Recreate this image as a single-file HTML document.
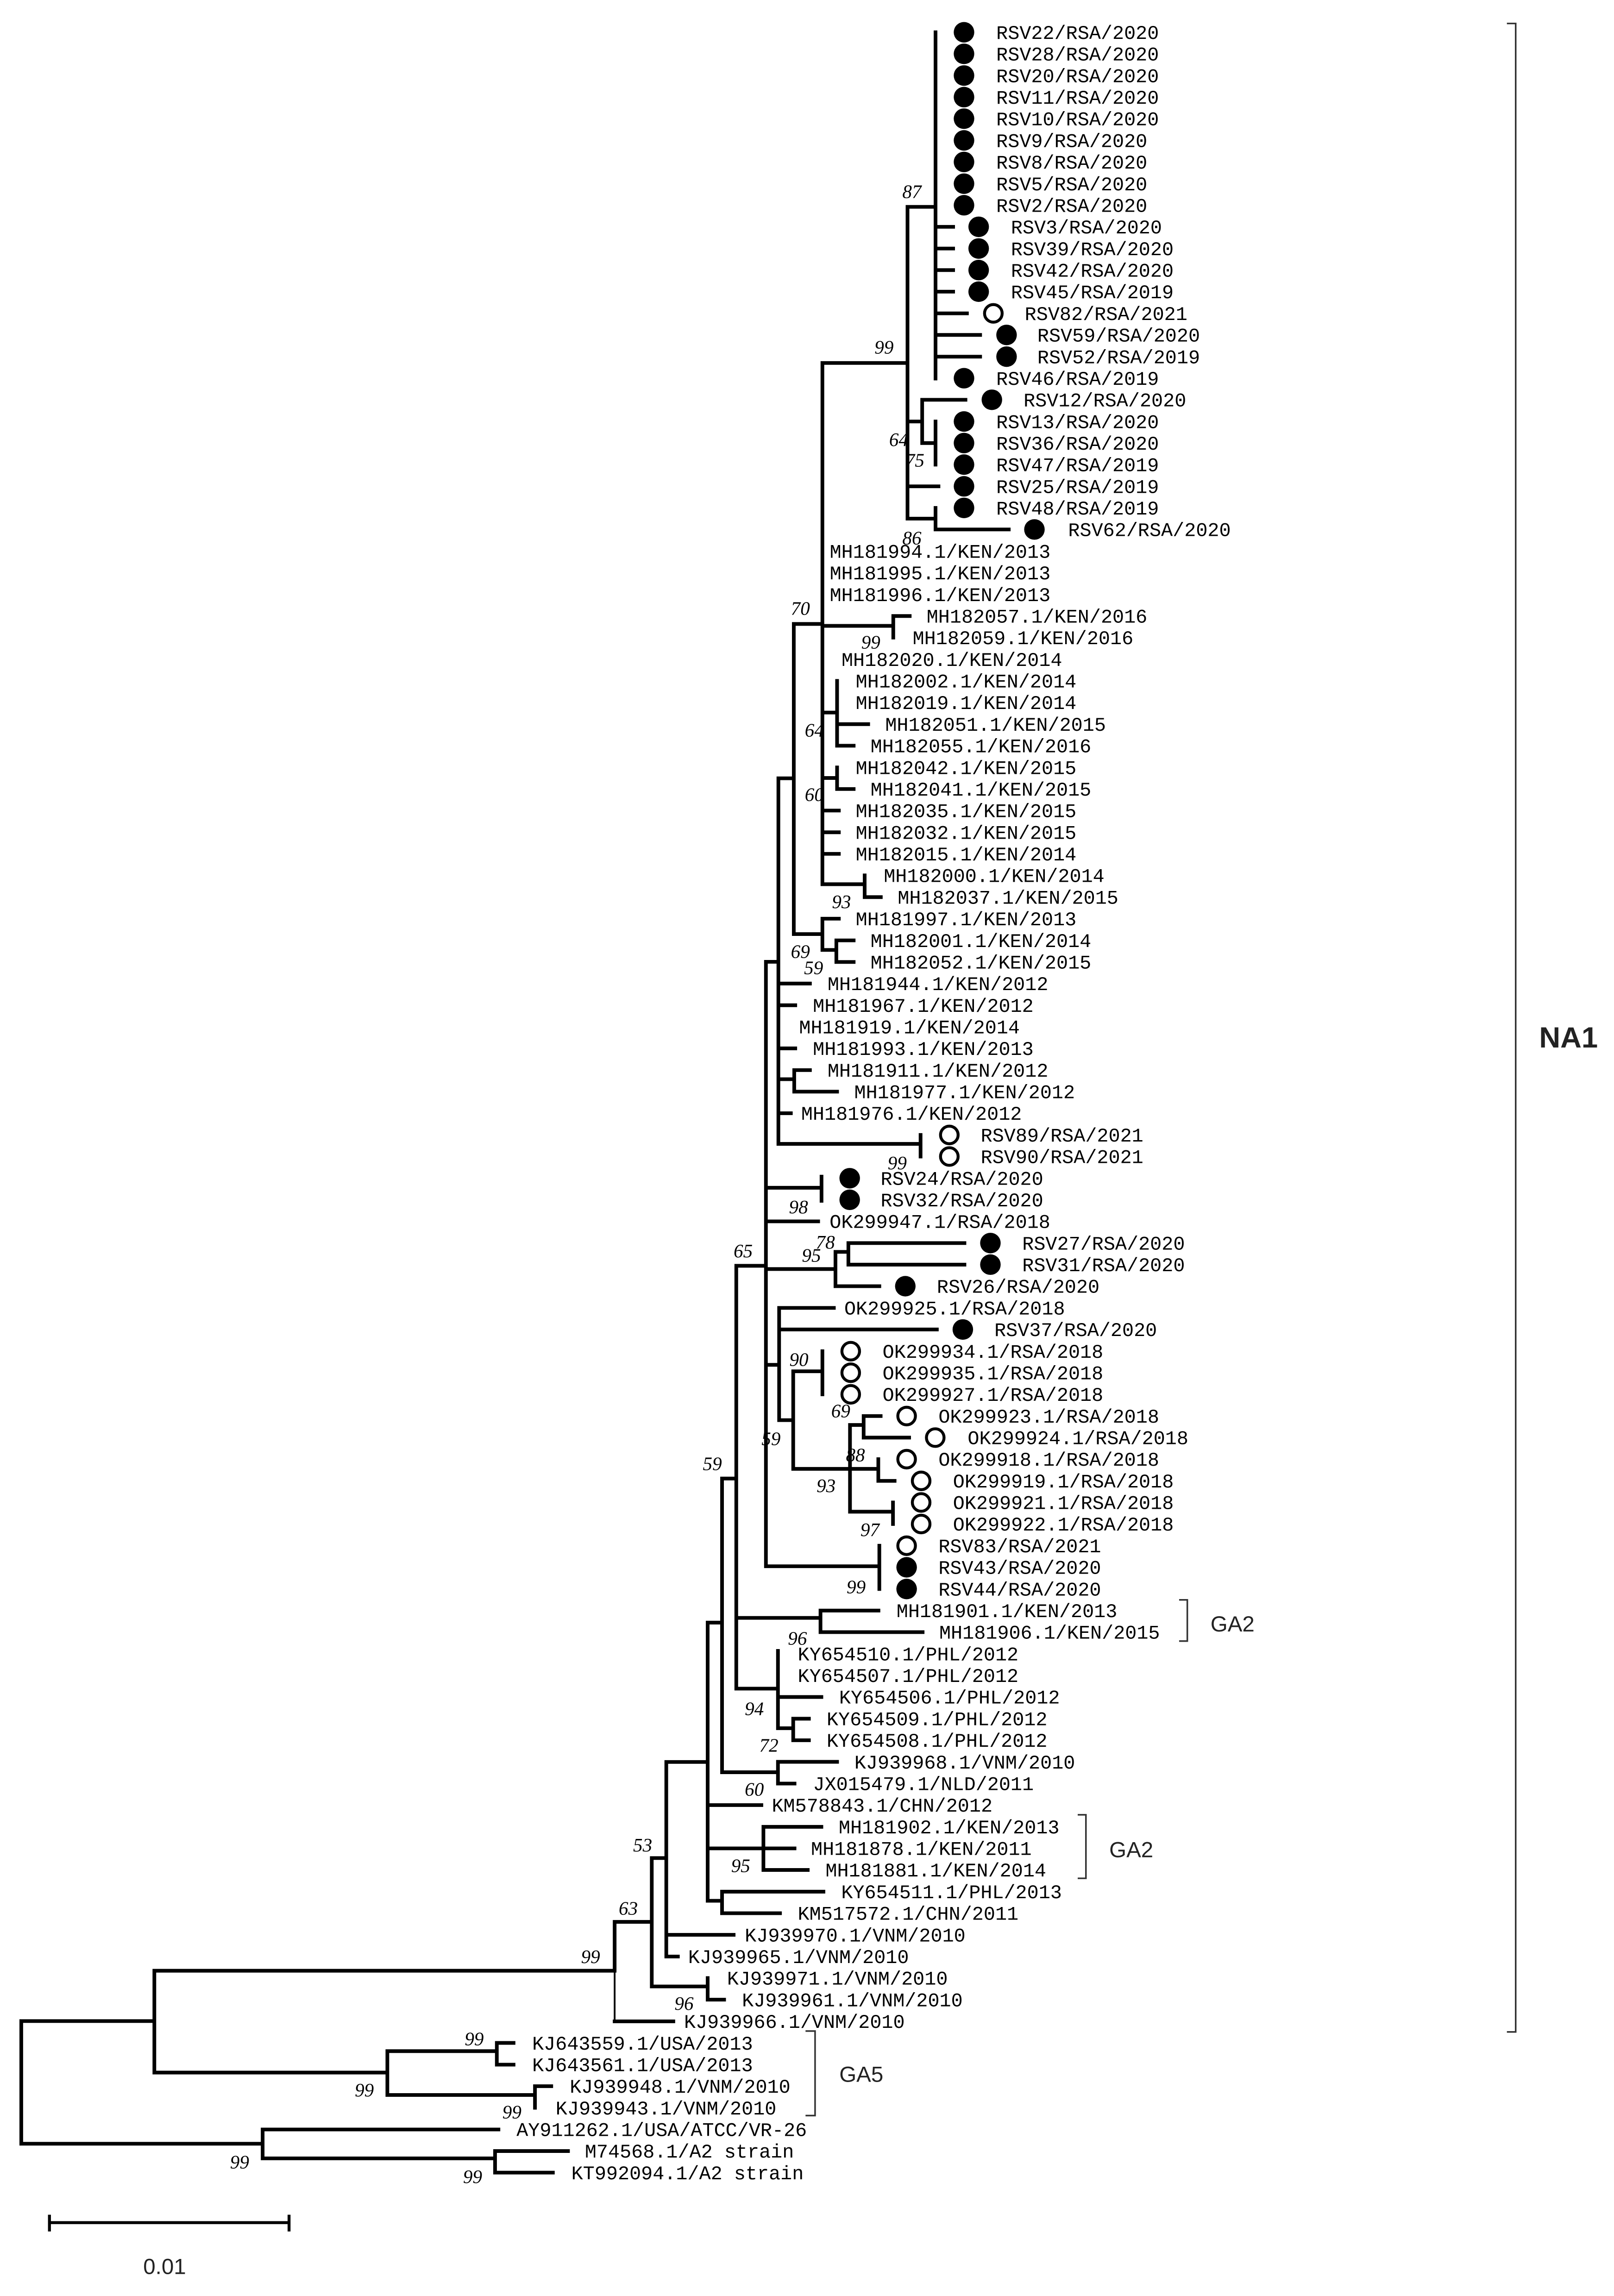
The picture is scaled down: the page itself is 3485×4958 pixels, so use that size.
<!DOCTYPE html>
<html><head><meta charset="utf-8"><style>
html,body{margin:0;padding:0;background:#fff;}
svg{display:block;}
.l{font-family:"Liberation Mono","DejaVu Sans Mono",monospace;font-size:13.2px;fill:#000;}
.b{font-family:"Liberation Serif",serif;font-style:italic;font-size:13px;fill:#000;}
.s{font-family:"Liberation Sans","DejaVu Sans",sans-serif;fill:#222;}
</style></head><body>
<svg width="3485" height="4958" viewBox="0 0 1100 1565" preserveAspectRatio="none" xmlns="http://www.w3.org/2000/svg">
<rect width="1100" height="1565" fill="#fff"/>
<g fill="none" stroke="#000" stroke-width="2.5" stroke-linecap="square">
<path d="M637.6 22V258 M618.5 141H637.6 M637.6 154.6H649.6 M637.6 169.4H649.6 M637.6 184.1H649.6 M637.6 198.8H649.6 M637.6 213.6H659 M637.6 228.3H668 M637.6 243.1H668
M560.5 247.4H618.5 M618.5 141V353.5 M618.5 287.3H628.5 M628.5 272.5V302 M628.5 272.5H658 M628.5 302H637.6 M637.6 287.3V316.7 M618.5 331.5H639.6 M618.5 353.5H637.6 M637.6 346.2V360.9H687.5
M560.5 247.4V602.7 M541 425.3H560.5 M560.5 426.6H608.8 M608.8 419.9V434.6 M608.8 419.9H620
M560.5 485.7H570.5 M570.5 464.1V508.3 M570.5 493.6H591.7 M570.5 508.3H581.8
M560.5 530.3H570.5 M570.5 523.1V537.8 M570.5 537.8H581.8
M560.5 552.5H571.7 M560.5 567.3H571.7 M560.5 582H571.7
M560.5 602.7H589.3 M589.3 596.7V611.5H600.3
M541 425.3V636.7 M541 636.7H560.5 M560.5 626.2V647.5 M560.5 626.2H571.7 M560.5 647.5H570 M570 641V655.7 M570 641H581.8 M570 655.7H581.8
M530.5 530.5H541 M530.5 530.5V779.7 M522 655.6H530.5
M530.5 670.4H552 M530.5 685.2H542 M530.5 714.6H542 M530.5 735.6H541.3 M541.3 729.4V744.1 M541.3 729.4H552 M541.3 744.1H570.5 M530.5 758.8H539
M530.5 779.7H627.4 M627.4 773.6V788.3
M522 655.6V1067.6 M522 809.6H559.9 M559.9 802V818.5 M522 832.5H557.6
M522 865H569.4 M569.4 853.3V876.7 M569.4 853.3H578.2 M578.2 847.3V862 M578.2 847.3H657.3 M578.2 862H657.3 M569.4 876.7H599.3
M501.8 862.8H522
M522 930.3H531 M531 891.5V968 M531 891.5H568.3 M531 906.2H638.5 M531 968H540.6 M540.6 934.7V1001.2 M540.6 934.7H560.5 M560.5 921V950.4
M540.6 1001.2H598.6 M579.3 971.3V1030.4 M579.3 971.3H588.6 M588.6 965.2V979.9 M588.6 965.2H600.2 M588.6 979.9H619.6 M598.6 994.6V1009.4 M598.6 1009.4H609.7 M579.3 1030.4H608.6 M608.6 1024.1V1038.8
M522 1067.6H599.3 M599.3 1053.6V1083.1
M501.8 862.8V1151 M501.8 1102.8H559.2 M559.2 1097.8V1112.5 M559.2 1097.8H598.7 M559.2 1112.5H628.8
M501.8 1151H530.2 M530.2 1125.3V1178 M530.2 1156.7H559.8 M530.2 1178H540.6 M540.6 1171.5V1186.2 M540.6 1171.5H551.3 M540.6 1186.2H551.3
M492.3 1007.8H501.8 M492.1 1007.8V1208 M492.1 1208H530.2 M530.2 1200.9V1215.7 M530.2 1200.9H570.5 M530.2 1215.7H541.5
M482.3 1106H492.1 M482.3 1106V1295.6 M482.3 1230.4H518.9 M482.3 1259.9H541.5 M520.3 1245.2V1274.6 M520.3 1245.2H559.8 M520.3 1274.6H550.5 M482.3 1295.6H492.1 M492.1 1289.4V1304.1 M492.1 1289.4H561.2 M492.1 1304.1H531.6
M454.1 1201H482.3 M454.1 1201V1333.6 M454.1 1318.8H500 M454.1 1333.6H462
M444.2 1266.5H454.1 M444.2 1266.5V1354 M444.2 1354H482.3 M482.3 1348.3V1363 M482.3 1363H493.5
M418.9 1310H444.2 M418.9 1310V1343.3 M418.9 1377.8H458.9
M105.2 1343.3H418.9 M105.2 1343.3V1412.7 M14.5 1377.6H105.2 M105.2 1412.7H264 M264 1398.1V1428 M264 1398.1H338.6 M338.6 1392.5V1407.3 M338.6 1392.5H350 M338.6 1407.3H350 M264 1428H364.6 M364.6 1422V1436.7 M364.6 1422H375.7
M14.5 1377.6V1461.2H179 M179 1451.5V1471.2 M179 1451.5H339.7 M179 1471.2H337.4 M337.4 1466.2V1480.9 M337.4 1466.2H387.1 M337.4 1480.9H376.8"/>
<path d="M418.9 1343.3V1377.8" stroke-width="1.2"/>
<path d="M33.7 1515H197 M33.7 1510.6V1520 M197 1510.6V1520" stroke-width="2"/>
<path d="M1027 16H1033V1385H1027 M803.6 1090.5H809.2V1118.6H803.6 M734.5 1237H740.1V1280.3H734.5 M549 1384.4H555.5V1442H549" stroke-width="1.1" stroke="#333" stroke-linecap="butt"/>
</g>
<g fill="#000">
<circle cx="657" cy="22" r="7"/><circle cx="657" cy="36.7" r="7"/><circle cx="657" cy="51.5" r="7"/><circle cx="657" cy="66.2" r="7"/><circle cx="657" cy="80.9" r="7"/><circle cx="657" cy="95.7" r="7"/><circle cx="657" cy="110.4" r="7"/><circle cx="657" cy="125.2" r="7"/><circle cx="657" cy="139.9" r="7"/>
<circle cx="667" cy="154.6" r="7"/><circle cx="667" cy="169.4" r="7"/><circle cx="667" cy="184.1" r="7"/><circle cx="667" cy="198.8" r="7"/>
<circle cx="686" cy="228.3" r="7"/><circle cx="686" cy="243.1" r="7"/><circle cx="657" cy="257.8" r="7"/><circle cx="676" cy="272.5" r="7"/>
<circle cx="657" cy="287.3" r="7"/><circle cx="657" cy="302" r="7"/><circle cx="657" cy="316.7" r="7"/><circle cx="657" cy="331.5" r="7"/><circle cx="657" cy="346.2" r="7"/><circle cx="705" cy="360.9" r="7"/>
<circle cx="579.1" cy="803.1" r="7"/><circle cx="579.1" cy="817.8" r="7"/><circle cx="675" cy="847.3" r="7"/><circle cx="675" cy="862" r="7"/><circle cx="617" cy="876.7" r="7"/><circle cx="656.2" cy="906.2" r="7"/>
<circle cx="617.9" cy="1068.3" r="7"/><circle cx="617.9" cy="1083.1" r="7"/>
</g>
<g fill="#fff" stroke="#000" stroke-width="2">
<circle cx="677" cy="213.6" r="6"/><circle cx="647" cy="773.6" r="6"/><circle cx="647" cy="788.3" r="6"/>
<circle cx="579.8" cy="921" r="6"/><circle cx="579.8" cy="935.7" r="6"/><circle cx="579.8" cy="950.4" r="6"/>
<circle cx="617.9" cy="965.2" r="6"/><circle cx="637.4" cy="979.9" r="6"/><circle cx="617.9" cy="994.6" r="6"/>
<circle cx="627.8" cy="1009.4" r="6"/><circle cx="627.8" cy="1024.1" r="6"/><circle cx="627.8" cy="1038.8" r="6"/><circle cx="617.9" cy="1053.6" r="6"/>
</g>
<g class="l">
<text x="679" y="26.5">RSV22/RSA/2020</text><text x="679" y="41.2">RSV28/RSA/2020</text><text x="679" y="56">RSV20/RSA/2020</text><text x="679" y="70.7">RSV11/RSA/2020</text><text x="679" y="85.4">RSV10/RSA/2020</text><text x="679" y="100.2">RSV9/RSA/2020</text><text x="679" y="114.9">RSV8/RSA/2020</text><text x="679" y="129.7">RSV5/RSA/2020</text><text x="679" y="144.4">RSV2/RSA/2020</text>
<text x="689" y="159.1">RSV3/RSA/2020</text><text x="689" y="173.9">RSV39/RSA/2020</text><text x="689" y="188.6">RSV42/RSA/2020</text><text x="689" y="203.3">RSV45/RSA/2019</text>
<text x="698.4" y="218.1">RSV82/RSA/2021</text><text x="707" y="232.8">RSV59/RSA/2020</text><text x="707" y="247.6">RSV52/RSA/2019</text><text x="679" y="262.3">RSV46/RSA/2019</text><text x="697.6" y="277">RSV12/RSA/2020</text>
<text x="679" y="291.8">RSV13/RSA/2020</text><text x="679" y="306.5">RSV36/RSA/2020</text><text x="679" y="321.2">RSV47/RSA/2019</text><text x="679" y="336">RSV25/RSA/2019</text><text x="679" y="350.7">RSV48/RSA/2019</text><text x="728" y="365.4">RSV62/RSA/2020</text>
<text x="565.5" y="380.2">MH181994.1/KEN/2013</text><text x="565.5" y="394.9">MH181995.1/KEN/2013</text><text x="565.5" y="409.7">MH181996.1/KEN/2013</text>
<text x="631.5" y="424.4">MH182057.1/KEN/2016</text><text x="622" y="439.1">MH182059.1/KEN/2016</text><text x="573.5" y="453.9">MH182020.1/KEN/2014</text>
<text x="583.2" y="468.6">MH182002.1/KEN/2014</text><text x="583.2" y="483.3">MH182019.1/KEN/2014</text><text x="603.3" y="498.1">MH182051.1/KEN/2015</text><text x="593.3" y="512.8">MH182055.1/KEN/2016</text>
<text x="583.2" y="527.6">MH182042.1/KEN/2015</text><text x="593.3" y="542.3">MH182041.1/KEN/2015</text><text x="583.2" y="557">MH182035.1/KEN/2015</text><text x="583.2" y="571.8">MH182032.1/KEN/2015</text><text x="583.2" y="586.5">MH182015.1/KEN/2014</text>
<text x="602.3" y="601.2">MH182000.1/KEN/2014</text><text x="611.8" y="616">MH182037.1/KEN/2015</text><text x="583.2" y="630.7">MH181997.1/KEN/2013</text><text x="593.3" y="645.5">MH182001.1/KEN/2014</text><text x="593.3" y="660.2">MH182052.1/KEN/2015</text>
<text x="564" y="674.9">MH181944.1/KEN/2012</text><text x="554" y="689.7">MH181967.1/KEN/2012</text><text x="544.6" y="704.4">MH181919.1/KEN/2014</text><text x="554" y="719.1">MH181993.1/KEN/2013</text><text x="564" y="733.9">MH181911.1/KEN/2012</text><text x="582.2" y="748.6">MH181977.1/KEN/2012</text><text x="546" y="763.3">MH181976.1/KEN/2012</text>
<text x="668.4" y="778.1">RSV89/RSA/2021</text><text x="668.4" y="792.8">RSV90/RSA/2021</text><text x="600.2" y="807.6">RSV24/RSA/2020</text><text x="600.2" y="822.3">RSV32/RSA/2020</text><text x="565.4" y="837">OK299947.1/RSA/2018</text>
<text x="696.7" y="851.8">RSV27/RSA/2020</text><text x="696.7" y="866.5">RSV31/RSA/2020</text><text x="638.5" y="881.2">RSV26/RSA/2020</text><text x="575.4" y="896">OK299925.1/RSA/2018</text><text x="677.7" y="910.7">RSV37/RSA/2020</text>
<text x="601.5" y="925.5">OK299934.1/RSA/2018</text><text x="601.5" y="940.2">OK299935.1/RSA/2018</text><text x="601.5" y="954.9">OK299927.1/RSA/2018</text>
<text x="639.6" y="969.7">OK299923.1/RSA/2018</text><text x="659.5" y="984.4">OK299924.1/RSA/2018</text><text x="639.6" y="999.1">OK299918.1/RSA/2018</text>
<text x="649.5" y="1013.9">OK299919.1/RSA/2018</text><text x="649.5" y="1028.6">OK299921.1/RSA/2018</text><text x="649.5" y="1043.3">OK299922.1/RSA/2018</text>
<text x="639.6" y="1058.1">RSV83/RSA/2021</text><text x="639.6" y="1072.8">RSV43/RSA/2020</text><text x="639.6" y="1087.6">RSV44/RSA/2020</text>
<text x="611" y="1102.3">MH181901.1/KEN/2013</text><text x="640.1" y="1117">MH181906.1/KEN/2015</text>
<text x="543.7" y="1131.8">KY654510.1/PHL/2012</text><text x="543.7" y="1146.5">KY654507.1/PHL/2012</text><text x="571.9" y="1161.2">KY654506.1/PHL/2012</text><text x="563.4" y="1176">KY654509.1/PHL/2012</text><text x="563.4" y="1190.7">KY654508.1/PHL/2012</text>
<text x="582.3" y="1205.4">KJ939968.1/VNM/2010</text><text x="554.1" y="1220.2">JX015479.1/NLD/2011</text><text x="526" y="1234.9">KM578843.1/CHN/2012</text>
<text x="571.6" y="1249.7">MH181902.1/KEN/2013</text><text x="552.7" y="1264.4">MH181878.1/KEN/2011</text><text x="562.6" y="1279.1">MH181881.1/KEN/2014</text>
<text x="573.3" y="1293.9">KY654511.1/PHL/2013</text><text x="543.7" y="1308.6">KM517572.1/CHN/2011</text><text x="507.6" y="1323.3">KJ939970.1/VNM/2010</text><text x="469" y="1338.1">KJ939965.1/VNM/2010</text>
<text x="495.5" y="1352.8">KJ939971.1/VNM/2010</text><text x="505.7" y="1367.5">KJ939961.1/VNM/2010</text><text x="466.2" y="1382.3">KJ939966.1/VNM/2010</text>
<text x="362.7" y="1397">KJ643559.1/USA/2013</text><text x="362.7" y="1411.8">KJ643561.1/USA/2013</text><text x="388.3" y="1426.5">KJ939948.1/VNM/2010</text><text x="378.7" y="1441.2">KJ939943.1/VNM/2010</text>
<text x="352" y="1456">AY911262.1/USA/ATCC/VR-26</text><text x="398.6" y="1470.7">M74568.1/A2 strain</text><text x="389.4" y="1485.4">KT992094.1/A2 strain</text>
</g>
<g class="b">
<text x="615" y="135">87</text><text x="596" y="241">99</text><text x="606" y="304">64</text><text x="617" y="318">75</text><text x="615" y="371">86</text>
<text x="539" y="419">70</text><text x="587" y="442">99</text><text x="548.5" y="502">64</text><text x="548.5" y="546">60</text><text x="567" y="619">93</text><text x="539" y="653">69</text><text x="548" y="664">59</text>
<text x="605" y="797">99</text><text x="537.7" y="827">98</text><text x="500" y="857">65</text><text x="556" y="851">78</text><text x="546.5" y="860">95</text>
<text x="538" y="931">90</text><text x="566.5" y="966">69</text><text x="519" y="985">59</text><text x="576.5" y="996">88</text><text x="556.5" y="1017">93</text><text x="586.4" y="1047">97</text><text x="577" y="1086">99</text>
<text x="479" y="1002">59</text><text x="537" y="1121">96</text><text x="507.6" y="1169">94</text><text x="517.5" y="1194">72</text><text x="507.6" y="1224">60</text><text x="431.5" y="1262">53</text><text x="498.3" y="1276">95</text>
<text x="421.7" y="1305">63</text><text x="396" y="1338">99</text><text x="459.7" y="1370">96</text><text x="316.7" y="1394">99</text><text x="241.8" y="1429">99</text><text x="342.4" y="1444">99</text><text x="156.8" y="1478">99</text><text x="315.6" y="1488">99</text>
</g>
<text class="s" x="1049" y="714" font-size="20" font-weight="bold" fill="#000">NA1</text>
<text class="s" x="825" y="1112" font-size="15">GA2</text>
<text class="s" x="756" y="1266" font-size="15">GA2</text>
<text class="s" x="572" y="1419" font-size="15">GA5</text>
<text class="s" x="97.6" y="1550" font-size="15" fill="#000">0.01</text>
</svg>
</body></html>
